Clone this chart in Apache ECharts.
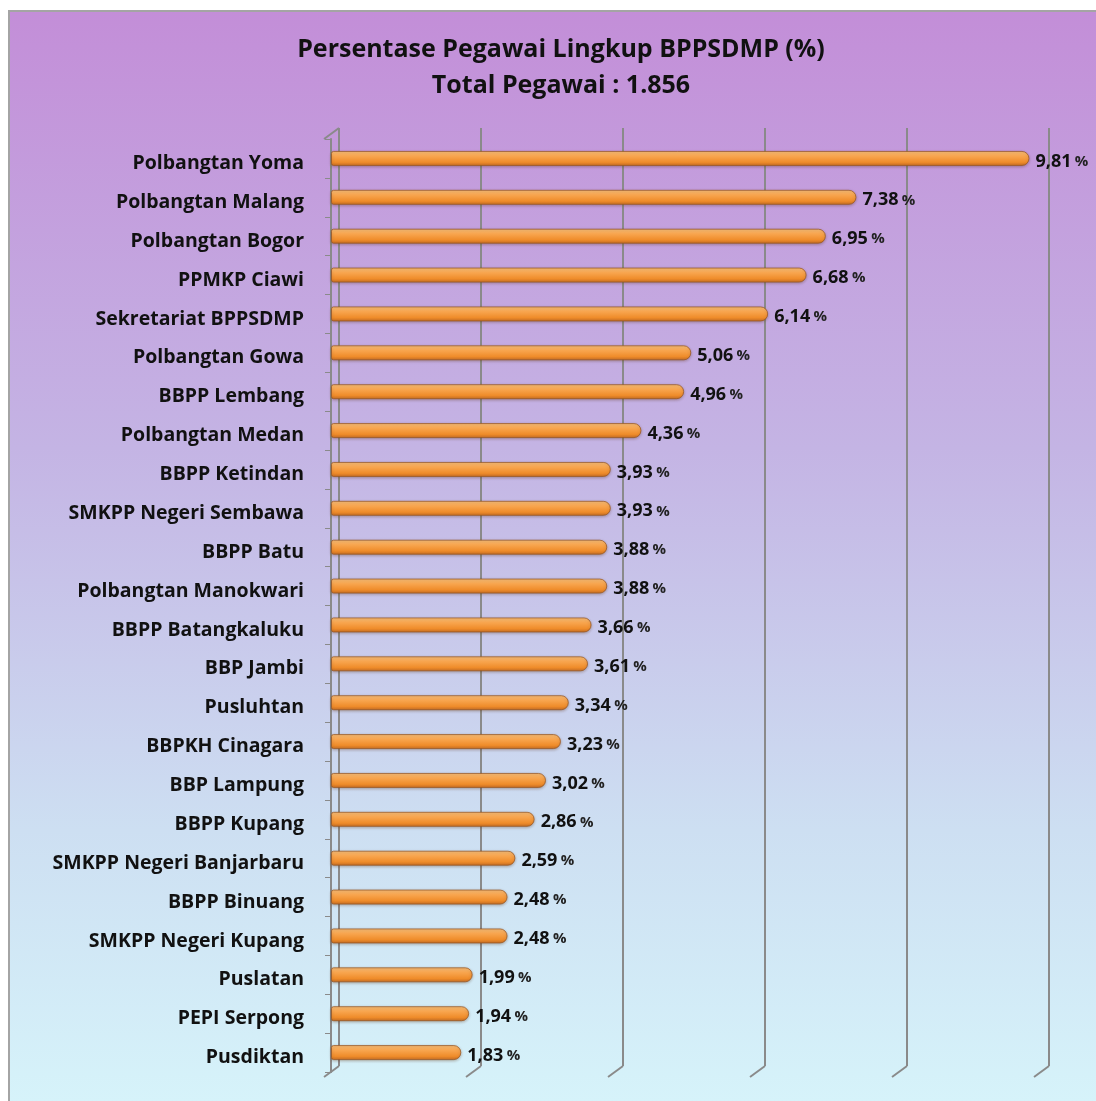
<!DOCTYPE html>
<html>
<head>
<meta charset="utf-8">
<script src="https://cdn.jsdelivr.net/npm/echarts@6/dist/echarts.min.js"></script>
<style>
  html, body { margin: 0; padding: 0; background: #fff; }
  #bg {
    position: absolute; left: 8px; top: 10px; width: 1088px; height: 1091px;
    border-left: 2px solid #a4a4a4; border-top: 2px solid #a4a4a4;
    background: linear-gradient(to bottom, #c38ed8 0%, #c4b4e4 40%, #cddff2 75%, #d6f3fa 100%);
  }
  #chart { position: absolute; left: 0; top: 0; width: 1096px; height: 1101px; }
</style>
</head>
<body>
<div id="bg"></div>
<div id="chart"></div>
<script>
// data
const categories = [
  'Polbangtan Yoma', 'Polbangtan Malang', 'Polbangtan Bogor', 'PPMKP Ciawi',
  'Sekretariat BPPSDMP', 'Polbangtan Gowa', 'BBPP Lembang', 'Polbangtan Medan',
  'BBPP Ketindan', 'SMKPP Negeri Sembawa', 'BBPP Batu', 'Polbangtan Manokwari',
  'BBPP Batangkaluku', 'BBP Jambi', 'Pusluhtan', 'BBPKH Cinagara',
  'BBP Lampung', 'BBPP Kupang', 'SMKPP Negeri Banjarbaru', 'BBPP Binuang',
  'SMKPP Negeri Kupang', 'Puslatan', 'PEPI Serpong', 'Pusdiktan'
]
const persentase = [
  9.81, 7.38, 6.95, 6.68, 6.14, 5.06, 4.96, 4.36, 3.93, 3.93, 3.88, 3.88,
  3.66, 3.61, 3.34, 3.23, 3.02, 2.86, 2.59, 2.48, 2.48, 1.99, 1.94, 1.83
]
const xTicks = [0, 2, 4, 6, 8, 10]

const chart = echarts.init(document.getElementById('chart'))
const font = '"Open Sans", Lato, sans-serif'

// feet of the back-wall gridlines (3D look), plus the top-left corner
const feet = xTicks.map(v => [v, 0]).concat([[0, 1]])

const option = {
  backgroundColor: 'transparent',
  title: {
    text: 'Persentase Pegawai Lingkup BPPSDMP (%)\nTotal Pegawai : 1.856',
    left: 556,
    textAlign: 'center',
    top: 27,
    textStyle: {
      fontFamily: font,
      fontSize: 25,
      fontWeight: 'bold',
      color: '#111',
      lineHeight: 36
    }
  },
  grid: [
    // back wall
    { left: 339, width: 710, top: 128, height: 938 },
    // bars
    { left: 331, width: 712, top: 139, height: 933 }
  ],
  xAxis: [
    {
      gridIndex: 0, type: 'value', min: 0, max: 10, interval: 2,
      axisLabel: { show: false }, axisLine: { show: false }, axisTick: { show: false },
      splitLine: { show: true, lineStyle: { color: '#8a8a8a', width: 2 } }
    },
    {
      gridIndex: 1, type: 'value', min: 0, max: 10, interval: 2,
      axisLabel: { show: false }, axisLine: { show: false }, axisTick: { show: false },
      splitLine: { show: false }
    }
  ],
  yAxis: [
    {
      gridIndex: 0, type: 'value', min: 0, max: 1, show: false
    },
    {
      gridIndex: 1, type: 'category', data: categories, inverse: true, offset: 7,
      axisLine: { show: true, lineStyle: { color: '#8a8a8a', width: 2 } },
      axisTick: { show: true, length: 6, lineStyle: { color: '#8a8a8a', width: 1 } },
      axisLabel: {
        margin: 20,
        formatter: v => '{c|' + v + '}',
        rich: {
          c: {
            padding: [10, 0, 0, 0],
            fontFamily: font, fontSize: 19.5, fontWeight: 'bold', color: '#111'
          }
        }
      },
      splitLine: { show: false }
    }
  ],
  series: [
    {
      type: 'custom',
      xAxisIndex: 0, yAxisIndex: 0,
      data: feet,
      silent: true,
      renderItem: (params, api) => {
        const p = api.coord([api.value(0), api.value(1)])
        return {
          type: 'line',
          shape: { x1: p[0], y1: p[1], x2: p[0] - 15, y2: p[1] + 11 },
          style: { stroke: '#8a8a8a', lineWidth: 2 }
        }
      }
    },
    {
      type: 'bar',
      xAxisIndex: 1, yAxisIndex: 1,
      data: persentase,
      barWidth: 15,
      itemStyle: {
        color: new echarts.graphic.LinearGradient(0, 0, 0, 1, [
          { offset: 0, color: '#fbc27c' },
          { offset: 0.35, color: '#f8a54e' },
          { offset: 0.75, color: '#ef8c2a' },
          { offset: 1, color: '#c46d25' }
        ]),
        borderColor: 'rgba(150, 85, 35, 0.75)',
        borderWidth: 1,
        borderRadius: [2, 7, 7, 2],
        shadowColor: 'rgba(90, 50, 20, 0.35)',
        shadowBlur: 3,
        shadowOffsetY: 1
      },
      label: {
        show: true,
        position: 'right',
        distance: 6,
        offset: [0, 3],
        formatter: p => '{n|' + p.value.toFixed(2).replace('.', ',') + '} {p|%}',
        rich: {
          n: { fontFamily: font, fontSize: 18, fontWeight: 'bold', color: '#111' },
          p: { fontFamily: font, fontSize: 15, fontWeight: 'bold', color: '#222' }
        }
      }
    }
  ]
}

chart.setOption(option)
</script>
</body>
</html>
